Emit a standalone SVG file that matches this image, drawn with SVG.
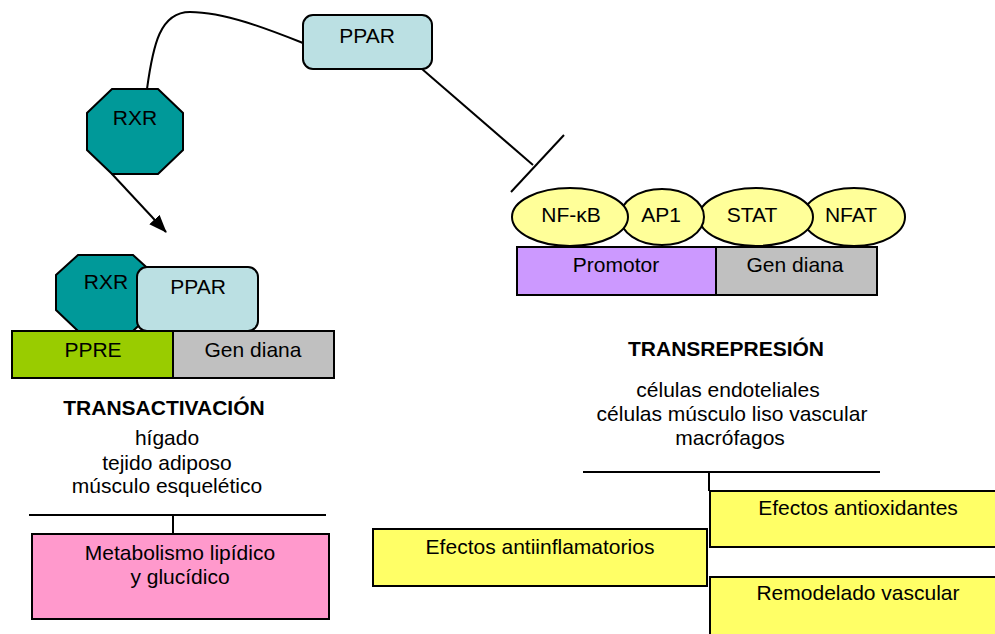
<svg xmlns="http://www.w3.org/2000/svg" width="995" height="634" viewBox="0 0 995 634">
<defs>
<style>
text{font-family:"Liberation Sans",Arial,sans-serif;font-size:21px;fill:#000;text-anchor:middle}
.b{font-weight:bold}
.s{stroke:#000;stroke-width:2}
.ln{stroke:#000;stroke-width:2;fill:none}
.rxr{fill:#009999}
.ppar{fill:#BBE0E3}
.ell{fill:#FFFF99}
.yel{fill:#FFFF66}
</style>
<marker id="arr" viewBox="0 0 10 10" refX="9" refY="5" markerWidth="8" markerHeight="8" markerUnits="userSpaceOnUse" orient="auto">
<path d="M0,0 L10,5 L0,10 z" fill="#000"/>
</marker>
<marker id="arrow" markerUnits="userSpaceOnUse" markerWidth="18" markerHeight="14" refX="17" refY="7" orient="auto" viewBox="0 0 18 14">
<path d="M0,0 L18,7 L0,14 z" fill="#000"/>
</marker>
</defs>
<rect width="995" height="634" fill="#fff"/>

<g id="connectors">
<path class="ln" d="M147,89 C153,45 160,12 190,12 C225,12 270,30 303,43"/>
<line class="ln" x1="422" y1="69" x2="533" y2="165"/>
<line class="ln" x1="564" y1="135" x2="511" y2="192"/>
<line class="ln" x1="112" y1="174" x2="166" y2="232" marker-end="url(#arrow)"/>
<line class="ln" x1="29" y1="515" x2="326" y2="515"/>
<line class="ln" x1="173" y1="515" x2="173" y2="534"/>
<line class="ln" x1="583" y1="472" x2="880" y2="472"/>
<line class="ln" x1="709" y1="472" x2="709" y2="491"/>
</g>

<g id="ppar-top">
<rect class="ppar s" x="303" y="15" width="129" height="54" rx="10"/>
<text x="367" y="43">PPAR</text>
</g>
<g id="rxr-top">
<polygon class="rxr s" points="112,89 158,89 183,113 183,150 158,174 112,174 87,150 87,113"/>
<text x="135" y="125">RXR</text>
</g>

<g id="nfat">
<ellipse class="ell s" cx="854" cy="217" rx="51" ry="29"/>
<text x="851" y="222">NFAT</text>
</g>
<g id="stat">
<ellipse class="ell s" cx="756" cy="217" rx="57" ry="29"/>
<text x="752" y="222">STAT</text>
</g>
<g id="ap1">
<ellipse class="ell s" cx="662" cy="217" rx="42" ry="28"/>
<text x="661" y="222">AP1</text>
</g>
<g id="nfkb">
<ellipse class="ell s" cx="570" cy="217" rx="58" ry="29"/>
<text x="571" y="222">NF-κB</text>
</g>
<g id="promotor">
<rect class="s" fill="#CC99FF" x="517" y="247" width="199" height="48"/>
<text x="616" y="272">Promotor</text>
</g>
<g id="gen-diana-right">
<rect class="s" fill="#C0C0C0" x="716" y="247" width="161" height="48"/>
<text x="795" y="272">Gen diana</text>
</g>

<g id="rxr-bound">
<polygon class="rxr s" points="78,255 133,255 155,275 155,310 133,331 78,331 56,310 56,275"/>
<text x="106" y="289">RXR</text>
</g>
<g id="ppar-bound">
<rect class="ppar s" x="137" y="267" width="121" height="64" rx="10"/>
<text x="198" y="294">PPAR</text>
</g>
<g id="ppre">
<rect class="s" fill="#99CC00" x="12" y="331" width="161" height="47"/>
<text x="93" y="357">PPRE</text>
</g>
<g id="gen-diana-left">
<rect class="s" fill="#C0C0C0" x="173" y="331" width="161" height="47"/>
<text x="253" y="357">Gen diana</text>
</g>

<g id="transactivacion">
<text class="b" x="164" y="415">TRANSACTIVACIÓN</text>
<text x="167" y="445">hígado</text>
<text x="167" y="470">tejido adiposo</text>
<text x="167" y="493">músculo esquelético</text>
</g>
<g id="metabolismo">
<rect class="s" fill="#FF99CC" x="32" y="534" width="297" height="85"/>
<text x="180" y="560">Metabolismo lipídico</text>
<text x="180" y="584">y glucídico</text>
</g>

<g id="transrepresion">
<text class="b" x="726" y="356">TRANSREPRESIÓN</text>
<text x="728" y="397">células endoteliales</text>
<text x="732" y="421">células músculo liso vascular</text>
<text x="730" y="445">macrófagos</text>
</g>
<g id="antiinflamatorios">
<rect class="yel s" x="373" y="529" width="334" height="57"/>
<text x="540" y="554">Efectos antiinflamatorios</text>
</g>
<g id="antioxidantes">
<rect class="yel s" x="710" y="491" width="296" height="56"/>
<text x="858" y="515">Efectos antioxidantes</text>
</g>
<g id="remodelado">
<rect class="yel s" x="710" y="577" width="296" height="70"/>
<text x="858" y="600">Remodelado vascular</text>
</g>
</svg>
